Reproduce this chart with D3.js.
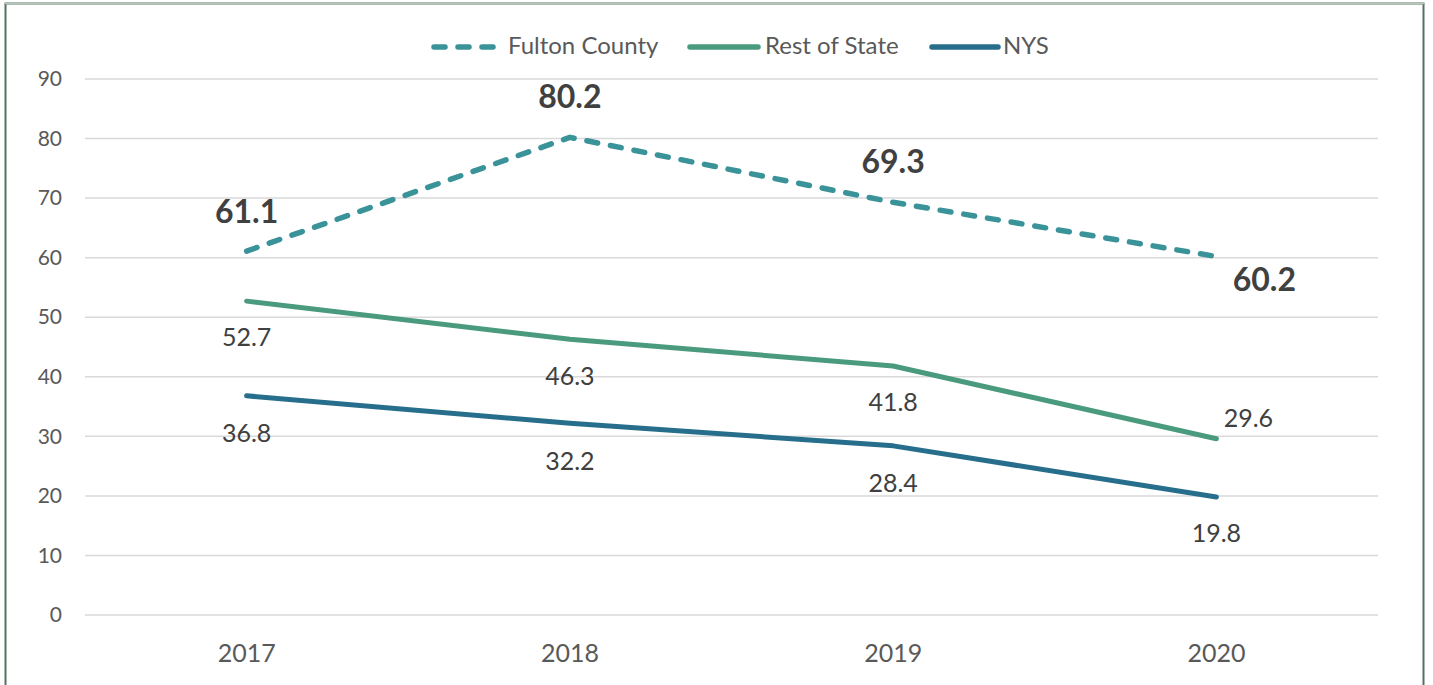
<!DOCTYPE html>
<html>
<head>
<meta charset="utf-8">
<script src="https://cdn.jsdelivr.net/npm/d3@7"></script>
<style>
  html, body { margin: 0; padding: 0; background: #fff; }
  svg { display: block; }
  text { font-family: Lato, "Open Sans", sans-serif; }
</style>
</head>
<body>
<svg id="chart" width="1433" height="685"></svg>
<script>
// Rates by year
const years = ["2017", "2018", "2019", "2020"];
const fultonCounty = [61.1, 80.2, 69.3, 60.2];
const restOfState = [52.7, 46.3, 41.8, 29.6];
const nys = [36.8, 32.2, 28.4, 19.8];
const yTicks = [0, 10, 20, 30, 40, 50, 60, 70, 80, 90];
const seriesNames = ["Fulton County", "Rest of State", "NYS"];

const svg = d3.select("#chart");

// Frame around the chart area
svg.append("rect")
  .attr("x", 5.5).attr("y", 3.5)
  .attr("width", 1418).attr("height", 690)
  .attr("fill", "none")
  .attr("stroke", "#55705f").attr("stroke-width", 2);
svg.append("line")
  .attr("x1", 5).attr("x2", 1424).attr("y1", 3.5).attr("y2", 3.5)
  .attr("stroke", "#b8c6bd").attr("stroke-width", 1.5);

const x = d3.scaleBand().domain(years).range([85, 1378]);
const y = d3.scaleLinear().domain([0, 90]).range([615, 79]);
const cx = d => x(d) + x.bandwidth() / 2;

// Horizontal gridlines
svg.append("g").selectAll("line").data(yTicks).join("line")
  .attr("x1", 85).attr("x2", 1378)
  .attr("y1", d => y(d)).attr("y2", d => y(d))
  .attr("stroke", "#d9d9d9").attr("stroke-width", 1.5);

// Y axis labels
const yAxis = d3.axisLeft(y).tickValues(yTicks).tickSize(0).tickPadding(0);
const gy = svg.append("g").attr("transform", "translate(62,0)").call(yAxis);
gy.select(".domain").remove();
gy.selectAll("text")
  .attr("font-family", "Lato, 'Open Sans', sans-serif")
  .attr("font-size", 21).attr("fill", "#595959");

// X axis labels
const xAxis = d3.axisBottom(x).tickSize(0).tickPadding(0);
const gx = svg.append("g").attr("transform", "translate(0,644)").call(xAxis);
gx.select(".domain").remove();
gx.selectAll("text")
  .attr("font-family", "Lato, 'Open Sans', sans-serif")
  .attr("font-size", 25).attr("fill", "#595959");

const colors = { fulton: "#3a9398", rest: "#4a9a7e", nys: "#276e8c" };

const line = d3.line().x((d, i) => cx(years[i])).y(d => y(d));

// Series lines
svg.append("path").datum(nys)
  .attr("d", line).attr("fill", "none")
  .attr("stroke", colors.nys).attr("stroke-width", 5)
  .attr("stroke-linecap", "round").attr("stroke-linejoin", "round");
svg.append("path").datum(restOfState)
  .attr("d", line).attr("fill", "none")
  .attr("stroke", colors.rest).attr("stroke-width", 5)
  .attr("stroke-linecap", "round").attr("stroke-linejoin", "round");
svg.append("path").datum(fultonCounty)
  .attr("d", line).attr("fill", "none")
  .attr("stroke", colors.fulton).attr("stroke-width", 5.5)
  .attr("stroke-dasharray", "11 13")
  .attr("stroke-linecap", "round").attr("stroke-linejoin", "round");

// Data labels
const fultonOffsets = [[0, -36], [0, -38], [0, -37], [48, 26]];
svg.append("g").selectAll("text").data(fultonCounty).join("text")
  .attr("x", (d, i) => cx(years[i]) + fultonOffsets[i][0])
  .attr("y", (d, i) => y(d) + fultonOffsets[i][1])
  .attr("text-anchor", "middle").attr("dominant-baseline", "middle")
  .attr("font-size", 32).attr("font-weight", "bold").attr("fill", "#404040")
  .text(d => d.toFixed(1));

const restOffsets = [[0, 39], [0, 39], [0, 39], [32, -18]];
svg.append("g").selectAll("text").data(restOfState).join("text")
  .attr("x", (d, i) => cx(years[i]) + restOffsets[i][0])
  .attr("y", (d, i) => y(d) + restOffsets[i][1])
  .attr("text-anchor", "middle").attr("dominant-baseline", "middle")
  .attr("font-size", 25).attr("fill", "#404040")
  .text(d => d.toFixed(1));

const nysOffsets = [[0, 40], [0, 40], [0, 40], [0, 39]];
svg.append("g").selectAll("text").data(nys).join("text")
  .attr("x", (d, i) => cx(years[i]) + nysOffsets[i][0])
  .attr("y", (d, i) => y(d) + nysOffsets[i][1])
  .attr("text-anchor", "middle").attr("dominant-baseline", "middle")
  .attr("font-size", 25).attr("fill", "#404040")
  .text(d => d.toFixed(1));

// Legend
const legendItems = [
  { name: seriesNames[0], color: colors.fulton, dash: "11 13", x1: 434, x2: 494, tx: 508 },
  { name: seriesNames[1], color: colors.rest, dash: null, x1: 690, x2: 758, tx: 765 },
  { name: seriesNames[2], color: colors.nys, dash: null, x1: 932, x2: 998, tx: 1003 }
];
const lg = svg.append("g");
lg.selectAll("line").data(legendItems).join("line")
  .attr("x1", d => d.x1).attr("x2", d => d.x2)
  .attr("y1", 47).attr("y2", 47)
  .attr("stroke", d => d.color).attr("stroke-width", 5.5)
  .attr("stroke-linecap", "round")
  .attr("stroke-dasharray", d => d.dash);
lg.selectAll("text").data(legendItems).join("text")
  .attr("x", d => d.tx)
  .attr("y", 48)
  .attr("dominant-baseline", "middle")
  .attr("font-size", 24).attr("fill", "#595959")
  .text(d => d.name);
</script>
</body>
</html>
